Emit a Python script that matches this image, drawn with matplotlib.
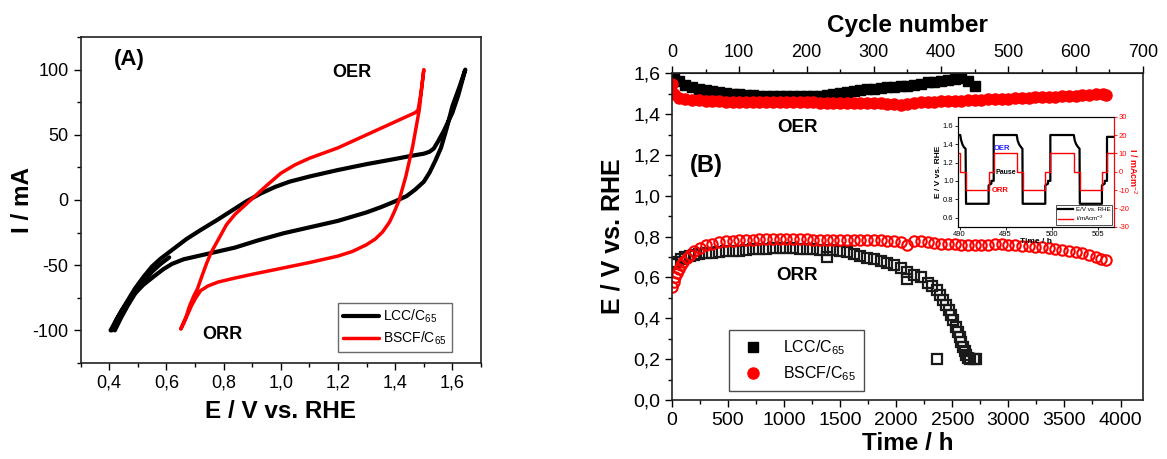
import numpy as np
import matplotlib
matplotlib.use("Agg")
from matplotlib import pyplot as plt
from matplotlib.ticker import MultipleLocator, FuncFormatter

# --------------------------------------------
# Settings
# --------------------------------------------

plt.rcParams['font.family'] = ['Liberation Sans', 'DejaVu Sans']
plt.rcParams['mathtext.fontset'] = 'custom'
plt.rcParams['mathtext.rm'] = 'Liberation Sans'
plt.rcParams['mathtext.bf'] = 'Liberation Sans:bold'
plt.rcParams['axes.unicode_minus'] = False

# --------------------------------------------
# Data
# --------------------------------------------

# (A) CV loop, LCC/C65 (anodic branch, then cathodic branch)
lcc_cv_e = [0.405, 0.42, 0.44, 0.465, 0.49, 0.52, 0.55, 0.58, 0.61, 0.64, 0.67,
            0.72, 0.78, 0.83, 0.88, 0.93, 0.98, 1.03, 1.10, 1.20, 1.30, 1.40,
            1.46, 1.50, 1.52, 1.535, 1.55, 1.57, 1.60, 1.62, 1.645,
            1.625, 1.60, 1.58, 1.56, 1.54, 1.52, 1.50, 1.47, 1.44, 1.40, 1.35,
            1.30, 1.20, 1.10, 1.01, 0.92, 0.84, 0.76, 0.66, 0.62, 0.59, 0.56,
            0.52, 0.48, 0.45, 0.425, 0.41]
lcc_cv_i = [-100, -94, -86, -77, -68, -59, -51, -45, -40, -35, -30,
            -23, -15, -8, -1, 5, 10, 14, 18, 23, 27.5, 31.5,
            34, 35.5, 37, 39.5, 45, 53, 67, 80, 100,
            87, 72, 55, 40, 30, 21, 14, 8, 3, -1, -5.5,
            -9.5, -16, -21, -25.5, -31, -36.5, -40.5, -45.5, -49, -53, -58,
            -65, -74, -83, -92, -100]

# (A) second LCC/C65 cycle near the ORR end
lcc_cv2_e = [0.42, 0.44, 0.465, 0.49, 0.52, 0.55, 0.58, 0.61]
lcc_cv2_i = [-100, -91, -81, -72, -63, -55, -49, -44]

# (A) CV loop, BSCF/C65
bscf_cv_e = [0.651, 0.66, 0.67, 0.68, 0.695, 0.709, 0.725, 0.74, 0.756, 0.785,
             0.81, 0.84, 0.87, 0.90, 0.95, 1.00, 1.05, 1.10, 1.20, 1.30, 1.40,
             1.47, 1.48, 1.49, 1.50,
             1.484, 1.461, 1.437, 1.414, 1.397, 1.38, 1.356, 1.33, 1.298, 1.25,
             1.20, 1.10, 1.00, 0.90, 0.837, 0.78, 0.745, 0.72, 0.703, 0.688,
             0.674, 0.662, 0.651]
bscf_cv_i = [-98.5, -94, -89, -82, -74, -68, -58, -49, -40.5, -29,
             -19, -11, -5, 1, 11, 20.5, 27, 32, 40, 50, 60,
             67, 69, 82, 100,
             69, 41, 18, 0, -9, -17, -24.5, -30, -34.5, -39.5,
             -43, -48, -52.5, -57, -60, -63, -66, -69.5, -75, -81,
             -88, -94, -99]

# (B) long-term test, OER potentials
lcc_oer_t = np.concatenate([[0, 20], np.arange(60, 2701, 60)])
lcc_oer_e = [1.60, 1.575,
             1.56, 1.545, 1.535, 1.525, 1.52, 1.515, 1.51, 1.505, 1.50,
             1.50, 1.495, 1.495, 1.49, 1.49, 1.49, 1.49, 1.49, 1.49, 1.488,
             1.49, 1.49, 1.49, 1.495, 1.50, 1.505, 1.51, 1.515, 1.52, 1.525,
             1.525, 1.53, 1.535, 1.535, 1.54, 1.54, 1.545, 1.55, 1.555, 1.555,
             1.56, 1.565, 1.57, 1.575, 1.56, 1.54]

bscf_oer_t = np.concatenate([[0, 20], np.arange(60, 3841, 60), [3870]])
bscf_oer_e = [1.55, 1.50,
              1.48, 1.475, 1.47, 1.47, 1.465, 1.465, 1.462, 1.46, 1.46, 1.46,
              1.46, 1.458, 1.458, 1.458, 1.46, 1.46, 1.46, 1.46, 1.46, 1.458,
              1.458, 1.456, 1.455, 1.455, 1.455, 1.455, 1.455, 1.455, 1.455, 1.455,
              1.453, 1.452, 1.45, 1.445, 1.45, 1.455, 1.458, 1.46, 1.46, 1.462,
              1.465, 1.465, 1.465, 1.468, 1.468, 1.47, 1.472, 1.472, 1.475, 1.475,
              1.478, 1.48, 1.48, 1.482, 1.484, 1.485, 1.486, 1.488, 1.49, 1.49,
              1.494, 1.496, 1.50, 1.50,
              1.495]

# (B) long-term test, ORR potentials
lcc_orr_t = [0, 40, 80, 120, 160, 200, 240, 300, 360, 420, 480, 540, 600, 660,
             720, 780, 840, 900, 960, 1020, 1080, 1140, 1200, 1260, 1320, 1380,
             1440, 1500, 1560, 1620, 1680, 1740, 1800, 1860, 1920, 1980, 2040,
             2100, 2160, 2220, 2280, 2320, 2360, 2390, 2420, 2445, 2470, 2490,
             2510, 2530, 2550, 2565, 2580, 2595, 2610, 2625, 2640, 2660, 2690,
             2715,
             1380, 2100, 2360]
lcc_orr_e = [0.665, 0.678, 0.69, 0.70, 0.706, 0.71, 0.715, 0.72, 0.722, 0.725,
             0.728, 0.73, 0.732, 0.735, 0.738, 0.74, 0.742, 0.745, 0.745, 0.745,
             0.743, 0.742, 0.74, 0.738, 0.736, 0.735, 0.733, 0.73, 0.725, 0.715,
             0.705, 0.695, 0.69, 0.68, 0.67, 0.66, 0.645, 0.625, 0.61, 0.60,
             0.575, 0.56, 0.54, 0.515, 0.49, 0.465, 0.44, 0.415, 0.39, 0.36,
             0.335, 0.31, 0.285, 0.26, 0.24, 0.22, 0.205, 0.20, 0.20, 0.20,
             0.70, 0.595, 0.20]

bscf_orr_t = [0, 15, 30, 45, 60, 80, 100, 130, 160, 200, 250, 300, 360, 420,
              480, 540, 600, 660, 720, 780, 840, 900, 960, 1020, 1080, 1140,
              1200, 1260, 1320, 1380, 1440, 1500, 1560, 1620, 1680, 1740, 1800,
              1860, 1920, 1980, 2040, 2100, 2160, 2220, 2280, 2340, 2400, 2460,
              2520, 2580, 2640, 2700, 2760, 2820, 2880, 2940, 3000, 3060, 3120,
              3180, 3240, 3300, 3360, 3420, 3480, 3540, 3600, 3660, 3720, 3780,
              3830, 3870]
bscf_orr_e = [0.555, 0.58, 0.60, 0.62, 0.64, 0.66, 0.675, 0.695, 0.712, 0.73,
              0.745, 0.757, 0.766, 0.773, 0.777, 0.78, 0.782, 0.785, 0.786, 0.787,
              0.788, 0.79, 0.79, 0.79, 0.79, 0.788, 0.787, 0.786, 0.785, 0.785,
              0.785, 0.785, 0.784, 0.783, 0.783, 0.785, 0.785, 0.782, 0.78, 0.778,
              0.772, 0.758, 0.78, 0.778, 0.772, 0.768, 0.765, 0.763, 0.762, 0.76,
              0.76, 0.76, 0.76, 0.76, 0.762, 0.762, 0.76, 0.758, 0.755, 0.752,
              0.75, 0.748, 0.745, 0.74, 0.735, 0.73, 0.725, 0.718, 0.71, 0.70,
              0.69, 0.685]

# top axis ticks (cycle number)
cycle_ticks = [0, 100, 200, 300, 400, 500, 600, 700]

# (B) inset: potential and current profile
inset_t = [489.8, 490.07, 490.15, 490.3, 490.45, 490.65, 490.7, 493.15, 493.15,
           493.45, 493.45, 493.7, 493.7, 496.2, 496.3, 496.45, 496.65, 496.82,
           496.85, 499.3, 499.3, 499.6, 499.6, 499.85, 499.85, 502.4, 502.5,
           502.65, 502.85, 503.02, 503.05, 505.45, 505.45, 505.75, 505.75,
           506.0, 506.0, 506.8]
inset_e = [1.50, 1.50, 1.45, 1.40, 1.37, 1.35, 0.75, 0.75, 0.95,
           0.97, 1.00, 1.00, 1.50, 1.50, 1.44, 1.40, 1.37, 1.35,
           0.75, 0.75, 0.95, 0.97, 1.00, 1.00, 1.50, 1.50, 1.44,
           1.40, 1.37, 1.35, 0.75, 0.75, 0.95, 0.97, 1.00,
           1.00, 1.48, 1.48]
inset_step_t = [489.8, 490.07, 490.7, 493.15, 493.7, 496.2, 496.85, 499.3,
                499.85, 502.4, 503.05, 505.45, 506.0, 506.8]
inset_step_i = [10, 0, -10, 0, 10, 0, -10, 0, 10, 0, -10, 0, 10, 10]

# --------------------------------------------
# Functions
# --------------------------------------------

# comma decimal tick labels
comma = FuncFormatter(lambda v, p: f"{v:.1f}".replace(".", ","))


def style_axis(ax, size):
    ax.tick_params(which='both', direction='out', labelsize=size, width=1.0)
    ax.tick_params(which='major', length=5)
    ax.tick_params(which='minor', length=3)
    for s in ax.spines.values():
        s.set_linewidth(1.2)
        s.set_color('#222222')

# --------------------------------------------
# Figure
# --------------------------------------------

fig = plt.figure(figsize=(11.67, 4.59), dpi=100)

# ---- (A) ----
ax1 = fig.add_axes([0.069, 0.2092, 0.3432, 0.7102])
ax1.plot(lcc_cv_e, lcc_cv_i, color='black', lw=3.0, label='LCC/C$_{65}$',
         solid_joinstyle='round', solid_capstyle='round')
ax1.plot(lcc_cv2_e, lcc_cv2_i, color='black', lw=3.0, solid_capstyle='round')
ax1.plot(bscf_cv_e, bscf_cv_i, color='#ff0000', lw=2.5, label='BSCF/C$_{65}$',
         solid_joinstyle='round', solid_capstyle='round')
ax1.set_xlim(0.3, 1.7)
ax1.set_ylim(-125, 125)
ax1.xaxis.set_major_locator(MultipleLocator(0.2))
ax1.xaxis.set_minor_locator(MultipleLocator(0.1))
ax1.yaxis.set_major_locator(MultipleLocator(50))
ax1.yaxis.set_minor_locator(MultipleLocator(25))
ax1.xaxis.set_major_formatter(comma)
style_axis(ax1, 13)
ax1.set_xlabel('E / V vs. RHE', fontsize=17.5, fontweight='bold', labelpad=6)
ax1.set_ylabel('I / mA', fontsize=17.5, fontweight='bold', labelpad=-1)
ax1.text(0.418, 108, '(A)', fontsize=16, fontweight='bold', va='center')
ax1.text(1.25, 98, 'OER', fontsize=13, fontweight='bold', va='center', ha='center')
ax1.text(0.795, -103, 'ORR', fontsize=13, fontweight='bold', va='center', ha='center')
leg1 = ax1.legend(loc='lower left', bbox_to_anchor=(0.643, 0.034), fontsize=10,
                  frameon=True, fancybox=False, handlelength=2.6, borderpad=0.35,
                  labelspacing=0.3, handletextpad=0.3, borderaxespad=0)
leg1.get_frame().set_edgecolor('#444444')
leg1.get_frame().set_linewidth(1.0)

# ---- (B) ----
ax2 = fig.add_axes([0.5758, 0.1285, 0.4036, 0.7118])
ax2.plot(lcc_oer_t, lcc_oer_e, ls='none', marker='s', ms=7, color='black',
         label='LCC/C$_{65}$')
ax2.plot(bscf_oer_t, bscf_oer_e, ls='none', marker='o', ms=8, color='#ff0000',
         label='BSCF/C$_{65}$')
ax2.plot(lcc_orr_t, lcc_orr_e, ls='none', marker='s', ms=6.5, mfc='none',
         mec='#1a1a1a', mew=1.6)
ax2.plot(bscf_orr_t, bscf_orr_e, ls='none', marker='o', ms=7.5, mfc='none',
         mec='#ff0000', mew=1.5)
ax2.set_xlim(0, 4200)
ax2.set_ylim(0, 1.6)
ax2.xaxis.set_major_locator(MultipleLocator(500))
ax2.xaxis.set_minor_locator(MultipleLocator(250))
ax2.yaxis.set_major_locator(MultipleLocator(0.2))
ax2.yaxis.set_minor_locator(MultipleLocator(0.1))
ax2.yaxis.set_major_formatter(comma)
style_axis(ax2, 14)
ax2.set_xlabel('Time / h', fontsize=17.5, fontweight='bold', labelpad=2)
ax2.set_ylabel('E / V vs. RHE', fontsize=18, fontweight='bold', labelpad=6)
ax2.text(303, 1.148, '(B)', fontsize=17, fontweight='bold', va='center', ha='center')
ax2.text(1121, 1.333, 'OER', fontsize=13.5, fontweight='bold', va='center', ha='center')
ax2.text(1114, 0.608, 'ORR', fontsize=13.5, fontweight='bold', va='center', ha='center')

# top axis in cycles (6 h per cycle)
top = ax2.secondary_xaxis('top', functions=(lambda t: t / 6.0, lambda c: c * 6.0))
top.set_xticks(cycle_ticks)
top.xaxis.set_minor_locator(MultipleLocator(50))
top.tick_params(which='both', direction='out', labelsize=13, width=1.0)
top.tick_params(which='major', length=5)
top.tick_params(which='minor', length=3)
top.set_xlabel('Cycle number', fontsize=17.5, fontweight='bold', labelpad=9)

leg2 = ax2.legend(loc='lower left', bbox_to_anchor=(0.121, 0.0275), fontsize=11.5,
                  frameon=True, fancybox=False, borderpad=0.5, labelspacing=0.45,
                  handletextpad=0.9, borderaxespad=0, handlelength=2.0)
leg2.get_frame().set_edgecolor('#222222')
leg2.get_frame().set_linewidth(1.0)

# ---- inset ----
ax3 = fig.add_axes([0.8207, 0.5061, 0.1342, 0.2397])
ax3.plot(inset_t, inset_e, color='black', lw=1.6, label='E/V vs. RHE')
ax3.set_xlim(489.8, 506.8)
ax3.set_ylim(0.5, 1.7)
ax3.set_xticks([490, 495, 500, 505])
ax3.set_yticks([0.6, 0.8, 1.0, 1.2, 1.4, 1.6])
ax3.tick_params(direction='out', labelsize=5.5, length=2, width=0.6, pad=1)
ax3.set_ylabel('E / V vs. RHE', fontsize=6, fontweight='bold', labelpad=1)
ax3.set_xlabel('Time / h', fontsize=6, fontweight='bold', labelpad=0)
for s in ax3.spines.values():
    s.set_linewidth(0.8)
ax4 = ax3.twinx()
ax4.step(inset_step_t, inset_step_i, where='post', color='#ff0000', lw=1.0,
         label='i/mAcm$^{-2}$')
ax4.set_ylim(-30, 30)
ax4.set_yticks([-30, -20, -10, 0, 10, 20, 30])
ax4.tick_params(direction='out', labelsize=5.5, length=2, width=0.6, pad=1,
                colors='#ff0000')
ax4.spines['right'].set_color('#ff0000')
ax4.spines['right'].set_linewidth(0.8)
ax4.set_ylabel('I / mAcm$^{-2}$', fontsize=6.5, fontweight='bold', color='#ff0000',
               rotation=270, labelpad=7)
ax3.text(494.64, 1.348, 'OER', fontsize=5.5, fontweight='bold', color='#2020ff',
         va='center', ha='center')
ax3.text(495.04, 1.093, 'Pause', fontsize=5, fontweight='bold', color='black',
         va='center', ha='center')
ax3.text(494.4, 0.9, 'ORR', fontsize=5.5, fontweight='bold', color='#ff0000',
         va='center', ha='center')
h3, l3 = ax3.get_legend_handles_labels()
h4, l4 = ax4.get_legend_handles_labels()
leg3 = ax4.legend(h3 + h4, l3 + l4, loc='lower right', fontsize=4.5, frameon=True,
                  fancybox=False, borderpad=0.3, labelspacing=0.2, handlelength=2.5,
                  handletextpad=0.4, borderaxespad=0.3)
leg3.get_frame().set_edgecolor('black')
leg3.get_frame().set_linewidth(0.6)

fig.savefig('out.png', dpi=100)
